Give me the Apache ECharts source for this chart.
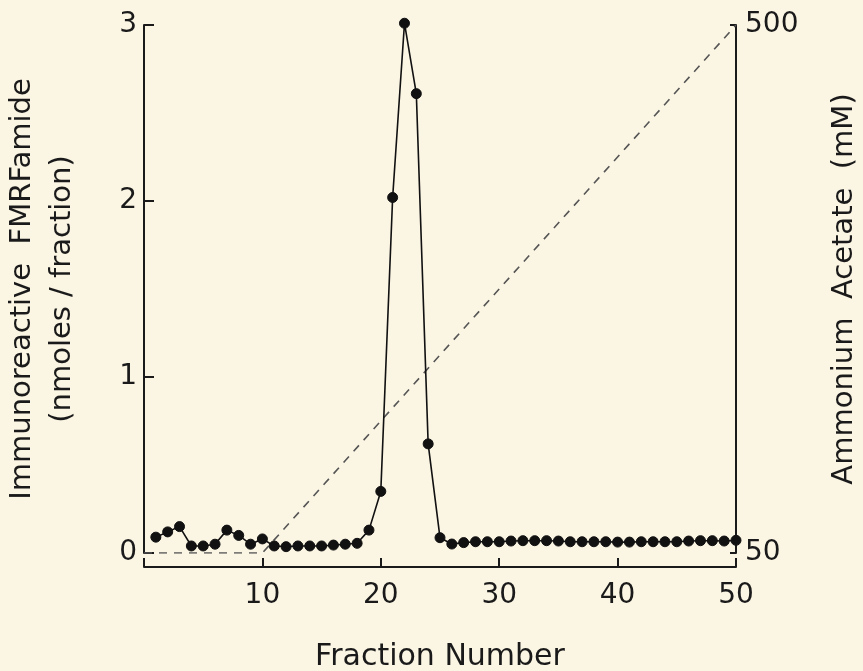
<!DOCTYPE html>
<html>
<head>
<meta charset="utf-8">
<script src="https://cdn.jsdelivr.net/npm/echarts@6/dist/echarts.min.js"></script>
<style>
  html, body { margin: 0; padding: 0; background: #fbf5e3; }
  #chart { width: 863px; height: 671px; }
</style>
</head>
<body>
<div id="chart"></div>
<script>
// fraction numbers and immunoreactive FMRFamide (nmoles/fraction)
const fractions = [];
for (let i = 1; i <= 50; i++) fractions.push(i);
const fmrfamide = [
  0.09, 0.12, 0.15, 0.04, 0.04, 0.05, 0.13, 0.10, 0.05, 0.08,
  0.04, 0.036, 0.04, 0.04, 0.04, 0.045, 0.05, 0.055, 0.13, 0.35,
  2.02, 3.01, 2.61, 0.62, 0.087, 0.051, 0.059, 0.064, 0.064, 0.064,
  0.068, 0.07, 0.07, 0.07, 0.068, 0.064, 0.064, 0.064, 0.064, 0.062,
  0.062, 0.064, 0.064, 0.064, 0.064, 0.068, 0.07, 0.07, 0.068, 0.072
];
// ammonium acetate gradient (mM)
const gradientFractions = [0, 10, 50];
const gradientMM = [50, 50, 500];

const leftTicks = [0, 1, 2, 3];
const rightTicks = [50, 500];

const ink = '#1a1a1a';
const font = 'DejaVu Sans';

let myChart = echarts.init(document.getElementById('chart'));
let option = {
  backgroundColor: '#fbf5e3',
  animation: false,
  grid: {
    left: 144,
    right: 127,
    top: 25,
    bottom: 118,
    outerBoundsMode: 'none'
  },
  xAxis: {
    type: 'value',
    min: 0,
    max: 50,
    interval: 10,
    offset: 14,
    name: 'Fraction Number',
    nameLocation: 'middle',
    nameGap: 75,
    nameTextStyle: { color: ink, fontFamily: font, fontSize: 30 },
    axisLine: { onZero: false, lineStyle: { color: ink, width: 2 } },
    axisTick: { inside: true, length: 9, lineStyle: { color: ink, width: 2 } },
    axisLabel: {
      color: ink, fontFamily: font, fontSize: 28, margin: 15,
      formatter: v => (v === 0 ? '' : String(v))
    },
    splitLine: { show: false }
  },
  yAxis: [
    {
      type: 'value',
      min: 0,
      max: 3,
      interval: 1,
      position: 'left',
      name: 'Immunoreactive  FMRFamide\n(nmoles / fraction)',
      nameLocation: 'middle',
      nameGap: 62,
      nameTextStyle: { color: ink, fontFamily: font, fontSize: 29, lineHeight: 40 },
      axisLine: { show: true, onZero: false, lineStyle: { color: ink, width: 2 } },
      axisTick: { show: true, inside: true, length: 10, lineStyle: { color: ink, width: 2 } },
      axisLabel: {
        color: ink, fontFamily: font, fontSize: 28, margin: 7,
        formatter: v => (leftTicks.indexOf(v) >= 0 ? String(v) : '')
      },
      splitLine: { show: false }
    },
    {
      type: 'value',
      min: 50,
      max: 500,
      interval: 450,
      position: 'right',
      name: 'Ammonium  Acetate  (mM)',
      nameLocation: 'middle',
      nameGap: 94,
      nameTextStyle: { color: ink, fontFamily: font, fontSize: 29 },
      axisLine: { show: true, onZero: false, lineStyle: { color: ink, width: 2 } },
      axisTick: { show: true, inside: true, length: 6, lineStyle: { color: ink, width: 2 } },
      axisLabel: {
        color: ink, fontFamily: font, fontSize: 28, margin: 9,
        formatter: v => (rightTicks.indexOf(v) >= 0 ? String(v) : '')
      },
      splitLine: { show: false }
    }
  ],
  series: [
    {
      type: 'line',
      yAxisIndex: 1,
      data: gradientFractions.map((f, i) => [f, gradientMM[i]]),
      symbol: 'none',
      lineStyle: { color: '#555', width: 1.6, type: [8, 7] },
      z: 1
    },
    {
      type: 'line',
      yAxisIndex: 0,
      clip: false,
      data: fractions.map((f, i) => [f, fmrfamide[i]]),
      symbol: 'circle',
      symbolSize: 10,
      itemStyle: { color: '#111', borderColor: '#111' },
      lineStyle: { color: '#111', width: 1.6 },
      z: 2
    }
  ]
};
myChart.setOption(option);
</script>
</body>
</html>
